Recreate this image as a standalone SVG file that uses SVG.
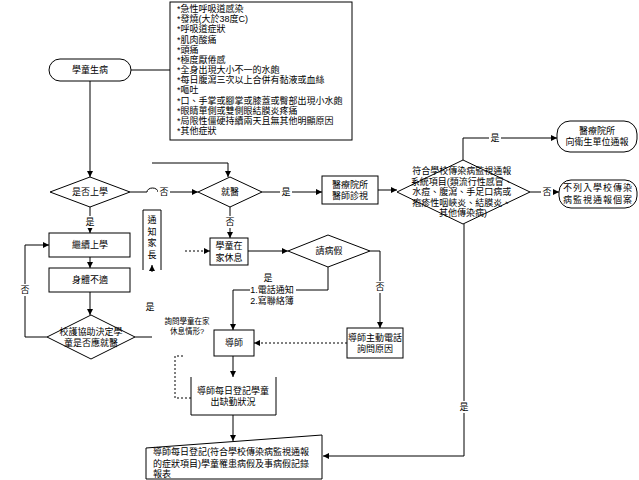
<svg xmlns="http://www.w3.org/2000/svg" width="639" height="480" viewBox="0 0 639 480">
<style>
.s{fill:#fff;stroke:#000;stroke-width:1}
.c{fill:none;stroke:#000;stroke-width:1}
.d{fill:none;stroke:#000;stroke-width:1;stroke-dasharray:2 2}
.t{font-family:"Liberation Sans","Noto Sans CJK TC","Noto Sans CJK SC",sans-serif;font-size:9px;fill:#000;text-anchor:middle;dominant-baseline:central}
.l{font-family:"Liberation Sans","Noto Sans CJK TC","Noto Sans CJK SC",sans-serif;font-size:9px;fill:#000;text-anchor:start;dominant-baseline:central}
.sm{font-size:7.5px}
.bg{fill:#fff;stroke:none}
</style>
<defs>
<marker id="a" viewBox="0 0 6 6" refX="6" refY="3" markerWidth="6" markerHeight="6" markerUnits="userSpaceOnUse" orient="auto">
<path d="M0,0 L6,3 L0,6 z" fill="#000"/>
</marker>
</defs>
<rect width="639" height="480" fill="#fff"/>

<g id="connectors">
<path class="c" d="M131,70 H170"/>
<path class="c" d="M90,81 V177" marker-end="url(#a)"/>
<path class="c" d="M130,192 H147 A5.5,4 0 0 1 158,192 H198" marker-end="url(#a)"/>
<path class="c" d="M152,163 H228 V177" marker-end="url(#a)"/>
<path class="c" d="M262,192 H322" marker-end="url(#a)"/>
<path class="c" d="M378,190 H397" marker-end="url(#a)"/>
<path class="c" d="M463,160 V138 H557" marker-end="url(#a)"/>
<path class="c" d="M530,192 H559" marker-end="url(#a)"/>
<path class="c" d="M464,224 V456 H323" marker-end="url(#a)"/>
<path class="c" d="M90,207 V233" marker-end="url(#a)"/>
<path class="c" d="M90,257 V268" marker-end="url(#a)"/>
<path class="c" d="M90,292 V315" marker-end="url(#a)"/>
<path class="c" d="M47,337 H25 V245 H49" marker-end="url(#a)"/>
<path class="c" d="M135,337 H152"/>
<path class="c" d="M152,272 V265" marker-end="url(#a)"/>
<path class="c" d="M230,207 V238" marker-end="url(#a)"/>
<path class="d" d="M185,251 H210" marker-end="url(#a)"/>
<path class="c" d="M248,251 H288" marker-end="url(#a)"/>
<path class="c" d="M328,267 V290 H233 V330" marker-end="url(#a)"/>
<path class="c" d="M370,251 H380 V328" marker-end="url(#a)"/>
<path class="d" d="M347,343 H254" marker-end="url(#a)"/>
<path class="c" d="M233,356 V377" marker-end="url(#a)"/>
<path class="d" d="M191,398 H175 V356 H185"/>
<path class="c" d="M233,415 V441" marker-end="url(#a)"/>
<rect class="bg" x="158" y="186" width="12" height="12"/><text class="t" x="164" y="192">否</text>
<rect class="bg" x="280" y="186" width="12" height="12"/><text class="t" x="286" y="192">是</text>
<rect class="bg" x="489" y="132" width="12" height="12"/><text class="t" x="495" y="138">是</text>
<rect class="bg" x="541" y="186" width="12" height="12"/><text class="t" x="547" y="192">否</text>
<rect class="bg" x="458" y="401" width="12" height="12"/><text class="t" x="464" y="407">是</text>
<rect class="bg" x="84" y="216" width="12" height="12"/><text class="t" x="90" y="222">是</text>
<rect class="bg" x="224" y="216" width="12" height="12"/><text class="t" x="230" y="222">否</text>
<rect class="bg" x="19" y="284" width="12" height="12"/><text class="t" x="25" y="290">否</text>
<text class="t" x="150" y="307">是</text>
<rect class="bg" x="374" y="281" width="12" height="12"/><text class="t" x="380" y="287">否</text>
<rect class="bg" x="250" y="272" width="46" height="34"/>
<text class="t"><tspan x="268" y="278">是</tspan><tspan x="272" y="290">1.電話通知</tspan><tspan x="272" y="300.5">2.寫聯絡簿</tspan></text>
<text class="t sm"><tspan x="187" y="321">詢問學童在家</tspan><tspan x="187" y="331">休息情形?</tspan></text>
</g>

<g id="n-sick">
<rect class="s" x="49" y="59" width="82" height="22" rx="11"/>
<text class="t" x="90" y="70">學童生病</text>
</g>

<g id="n-symptoms">
<rect class="s" x="170" y="2" width="182" height="138"/>
<text class="l">
<tspan x="177" y="9">*急性呼吸道感染</tspan>
<tspan x="177" y="19.17">*發燒(大於38度C)</tspan>
<tspan x="177" y="29.33">*呼吸道症狀</tspan>
<tspan x="177" y="39.5">*肌肉酸痛</tspan>
<tspan x="177" y="49.67">*頭痛</tspan>
<tspan x="177" y="59.83">*極度厭倦感</tspan>
<tspan x="177" y="70">*全身出現大小不一的水皰</tspan>
<tspan x="177" y="80.17">*每日腹瀉三次以上合併有黏液或血絲</tspan>
<tspan x="177" y="90.33">*嘔吐</tspan>
<tspan x="177" y="100.5">*口、手掌或腳掌或膝蓋或臀部出現小水皰</tspan>
<tspan x="177" y="110.67">*眼睛單側或雙側眼結膜炎疼痛</tspan>
<tspan x="177" y="120.83">*局限性僵硬持續兩天且無其他明顯原因</tspan>
<tspan x="177" y="131">*其他症狀</tspan>
</text>
</g>

<g id="n-school">
<path class="s" d="M50,192 L90,177 L130,192 L90,207 Z"/>
<text class="t" x="90" y="192">是否上學</text>
</g>

<g id="n-doctor">
<path class="s" d="M198,192 L230,177 L262,192 L230,207 Z"/>
<text class="t" x="230" y="192">就醫</text>
</g>

<g id="n-clinic">
<rect class="s" x="322" y="176" width="56" height="28"/>
<text class="t"><tspan x="350" y="184.5">醫療院所</tspan><tspan x="350" y="196">醫師診視</tspan></text>
</g>

<g id="n-match">
<path class="s" d="M397,192 L463,160 L530,192 L463,224 Z"/>
<text class="t">
<tspan x="463" y="171">符合學校傳染病監視通報</tspan>
<tspan x="463" y="181.5">系統項目(類流行性感冒、</tspan>
<tspan x="463" y="192">水痘、腹瀉、手足口病或</tspan>
<tspan x="463" y="202.5">疱疹性咽峽炎、結膜炎、</tspan>
<tspan x="463" y="213">其他傳染病)</tspan>
</text>
</g>

<g id="n-report">
<rect class="s" x="557" y="121" width="80" height="31" rx="13"/>
<text class="t"><tspan x="597" y="130.5">醫療院所</tspan><tspan x="597" y="142">向衛生單位通報</tspan></text>
</g>

<g id="n-notlisted">
<rect class="s" x="559" y="180" width="78" height="28" rx="12"/>
<text class="t" letter-spacing="1"><tspan x="598" y="188">不列入學校傳染</tspan><tspan x="598" y="199.5">病監視通報個案</tspan></text>
</g>

<g id="n-continue">
<rect class="s" x="49" y="233" width="81" height="24"/>
<text class="t" x="90" y="245">繼續上學</text>
</g>

<g id="n-unwell">
<rect class="s" x="49" y="268" width="81" height="24"/>
<text class="t" x="90" y="280">身體不適</text>
</g>

<g id="n-nurse">
<path class="s" d="M47,337 L91,315 L135,337 L91,359 Z"/>
<text class="t"><tspan x="91" y="332">校護協助決定學</tspan><tspan x="91" y="342.5">童是否應就醫</tspan></text>
</g>

<g id="n-parents">
<path class="c" d="M143,270 V210 H161 V270"/>
<text class="t"><tspan x="152" y="220">通</tspan><tspan x="152" y="231.5">知</tspan><tspan x="152" y="243">家</tspan><tspan x="152" y="254.5">長</tspan></text>
</g>

<g id="n-rest">
<rect class="s" x="210" y="238" width="38" height="27"/>
<text class="t"><tspan x="229" y="246">學童在</tspan><tspan x="229" y="257.5">家休息</tspan></text>
</g>

<g id="n-leave">
<path class="s" d="M288,251 L328,235 L370,251 L328,267 Z"/>
<text class="t" x="329" y="251">請病假</text>
</g>

<g id="n-teacher">
<rect class="s" x="214" y="330" width="40" height="26"/>
<text class="t" x="234" y="343">導師</text>
</g>

<g id="n-call">
<rect class="s" x="347" y="328" width="56" height="30"/>
<text class="t"><tspan x="375" y="337.5">導師主動電話</tspan><tspan x="375" y="349">詢問原因</tspan></text>
</g>

<g id="n-attend">
<path class="c" d="M191,377 V415 H276 V377"/>
<text class="t"><tspan x="233" y="391">導師每日登記學童</tspan><tspan x="233" y="402">出缺勤狀況</tspan></text>
</g>

<g id="n-record">
<path class="s" d="M146,448 L322,435 V479 H146 Z"/>
<text class="l"><tspan x="153" y="452">導師每日登記(符合學校傳染病監視通報</tspan><tspan x="153" y="463.5">的症狀項目)學童罹患病假及事病假記錄</tspan><tspan x="153" y="474">報表</tspan></text>
</g>
</svg>
